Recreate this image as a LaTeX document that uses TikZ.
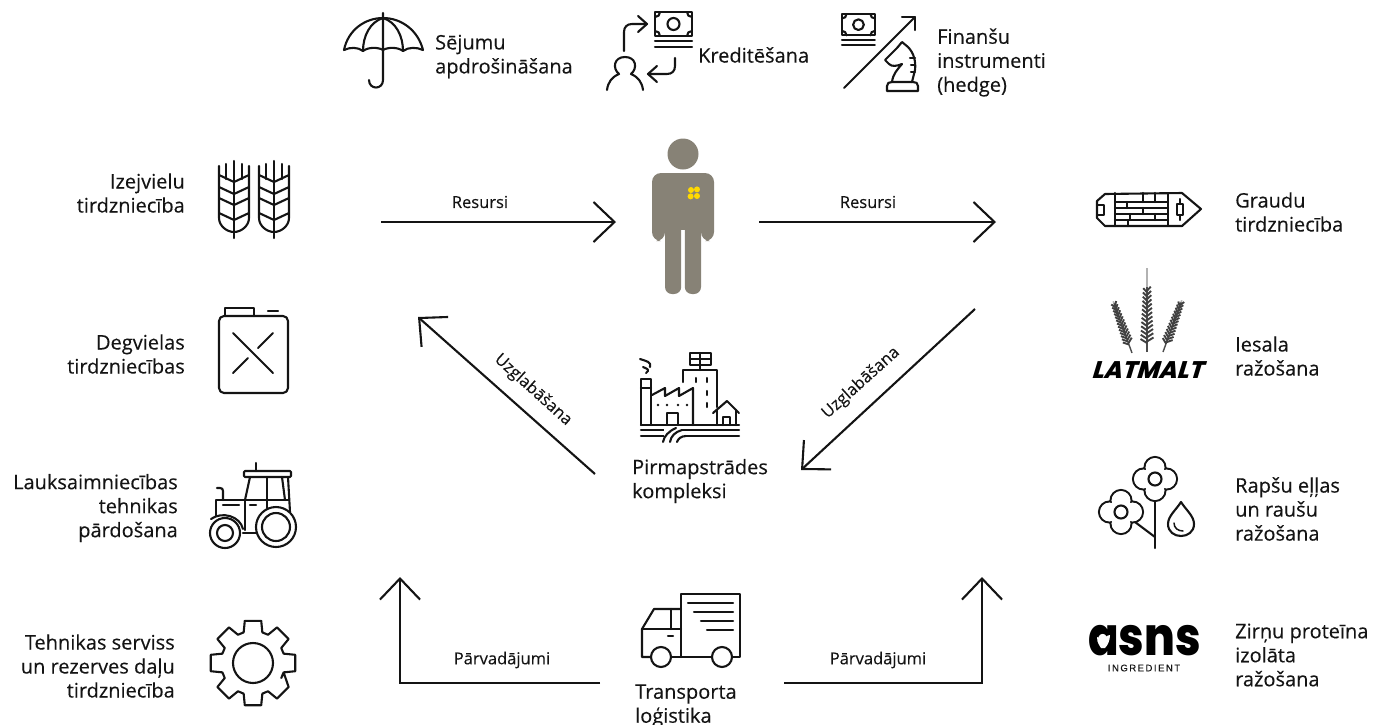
\documentclass[tikz,border=0pt]{standalone}
\usepackage{fontspec}
\setmainfont{Open Sans}[FakeBold=0.25]
\newfontfamily\logofont{Poppins}[UprightFont=* ExtraBold]
\newfontfamily\latfont{Poppins}[UprightFont=* ExtraBold,FakeSlant=0.3]
\newfontfamily\ingfont{Liberation Sans}[LetterSpace=16,FakeBold=0.3]
\usetikzlibrary{arrows.meta,calc}
\definecolor{ink}{HTML}{141414}
\definecolor{figure}{HTML}{878276}
\definecolor{petal}{HTML}{FFD900}
\newcommand{\moneyic}[3]{%
 \begin{scope}[shift={(#1,#2)},scale=#3]
 \draw[icon] (0,0) rectangle (37,24);
 \draw[icon] (18.5,12) circle[radius=6];
 \draw[icon] (0,5) .. controls (3,5) and (5,3) .. (5,0);
 \draw[icon] (32,0) .. controls (32,3) and (34,5) .. (37,5);
 \draw[icon] (0,19) .. controls (3,19) and (5,21) .. (5,24);
 \draw[icon] (32,24) .. controls (32,21) and (34,19) .. (37,19);
 \draw[icon] (0,29) -- (37,29);
 \draw[icon] (0,35) -- (37,35);
 \end{scope}}
\newcommand{\flowerbloom}[2]{%
 \begin{scope}[shift={(#1,#2)}]
 \foreach \dx/\dy in {0/-11.5,0/11.5,-11.5/0,11.5/0}{\draw[icon] (\dx,\dy) circle[radius=10.5];}
 \foreach \dx/\dy in {0/-11.5,0/11.5,-11.5/0,11.5/0}{\fill[white] (\dx,\dy) circle[radius=9.4];}
 \fill[white] (0,0) circle[radius=9];
 \draw[icon] (0,0) circle[radius=6.5];
 \end{scope}}
\newcommand{\ear}[6]{%
 \begin{scope}[shift={(#1,#2)},rotate=#3]
 \draw[line width=1.4pt,black!70] (0,0) -- (0,-#4);
 \draw[line width=1.6pt,black!30] (0,-#4) -- (0,-#5);
 \foreach \k in {0,...,12}{
  \pgfmathsetmacro{\yy}{-9-\k*(#4-10)/13}
  \pgfmathsetmacro{\ww}{#6*(1-0.035*\k)}
  \draw[line width=1.9pt,black!75] (0,\yy) -- (-\ww,\yy-4);
  \draw[line width=1.9pt,black!75] (0,\yy-1.5) -- (\ww,\yy-5.5);
 }
 \end{scope}}
\tikzset{
 icon/.style={draw=ink,line width=2.1pt,line join=round,line cap=round},
 flow/.style={draw=ink,line width=2.1pt,-{Straight Barb[length=21pt,width=40pt,line width=2.1pt]}},
 lbl/.style={text=ink,inner sep=0pt,font=\fontsize{20}{24}\selectfont},
 lblr/.style={lbl,align=right,anchor=east},
 lbll/.style={lbl,align=left,anchor=west},
 tag/.style={text=ink,inner sep=0pt,font=\fontsize{16.5}{18}\selectfont},
}
\begin{document}
\begin{tikzpicture}[x=1pt,y=-1pt]
\useasboundingbox (0,0) rectangle (1377,724);
% ---- connectors
\coordinate (a1) at (381,222); \coordinate (a2) at (616,222);
\coordinate (b1) at (759,222); \coordinate (b2) at (996,222);
\coordinate (c1) at (595,474); \coordinate (c2) at (418,317);
\coordinate (d1) at (975,309); \coordinate (d2) at (801,470);
\coordinate (e1) at (600,683); \coordinate (e2) at (400,577);
\coordinate (f1) at (784,683); \coordinate (f2) at (982,577);
\draw[flow] (a1) -- (a2);
\draw[flow] (b1) -- (b2);
\draw[flow] (c1) -- (c2);
\draw[flow] (d1) -- (d2);
\draw[flow] (e1) -| (e2);
\draw[flow] (f1) -| (f2);
\node[tag] (t1) at (480,202) {Resursi};
\node[tag] (t2) at (868,202) {Resursi};
\node[tag,rotate=-42] (t3) at (533,390) {Uzglabāšana};
\node[tag,rotate=42] (t4) at (861,383) {Uzglabāšana};
\node[tag] (t5) at (502,660) {Pārvadājumi};
\node[tag] (t6) at (878,660) {Pārvadājumi};
% ---- labels
\node[lblr] (l1) at (185,193) {Izejvielu\\tirdzniecība};
\node[lblr] (l2) at (185,354) {Degvielas\\tirdzniecības};
\node[lblr] (l3) at (178,508) {Lauksaimniecības\\tehnikas\\pārdošana};
\node[lblr] (l4) at (175,666) {Tehnikas serviss\\un rezerves daļu\\tirdzniecība};
\node[lbll] (r1) at (1235,212) {Graudu\\tirdzniecība};
\node[lbll] (r2) at (1235,356) {Iesala\\ražošana};
\node[lbll] (r3) at (1235,509) {Rapšu eļļas\\un raušu\\ražošana};
\node[lbll] (r4) at (1235,655) {Zirņu proteīna\\izolāta\\ražošana};
\node[lbll] (p1) at (435,56.5) {Sējumu\\apdrošināšana};
\node[lbll] (p2) at (698,55) {Kreditēšana};
\node[lbll] (p3) at (937,62.5) {Finanšu\\instrumenti\\(hedge)};
\node[lbll] (m1) at (632,481) {Pirmapstrādes\\kompleksi};
\node[lbll] (m2) at (635,706) {Transporta\\loģistika};
% ---- umbrella
\draw[icon] (344,50) .. controls (348,30) and (365,18) .. (383,18) .. controls (401,18) and (418,30) .. (423,50);
\draw[icon] (344,50) .. controls (350,47) and (358,47) .. (363,51) .. controls (368,47) and (378,47) .. (383,50) .. controls (388,47) and (398,47) .. (403,51) .. controls (408,47) and (417,47) .. (423,50);
\draw[icon] (383,18) .. controls (370,22) and (363,36) .. (363,51);
\draw[icon] (383,18) .. controls (396,22) and (403,36) .. (403,51);
\draw[icon] (383,13) -- (383,80) .. controls (383,90) and (369,90) .. (369,80);
% ---- credit
\moneyic{655}{12}{1}
\draw[icon] (624,51) -- (624,32) .. controls (624,27) and (627,24) .. (632,24) -- (647,24);
\draw[icon] (638,16) -- (647,24) -- (638,32);
\draw[icon] (675,58) -- (675,66) .. controls (675,71) and (672,74) .. (667,74) -- (648,74);
\draw[icon] (657,66) -- (648,74) -- (657,82);
\draw[icon] (607,90) .. controls (608,82) and (612,77) .. (619,74) .. controls (612,68) and (614,57) .. (625,57) .. controls (636,57) and (638,68) .. (631,74) .. controls (638,77) and (642,82) .. (643,90);
% ---- hedge
\moneyic{842}{14}{0.89}
\draw[icon] (844,88) -- (915,17);
\draw[icon] (902,17) -- (915,17) -- (915,30);
\draw[icon] (887,91) -- (887,86) .. controls (887,83) and (889,82) .. (892,82) -- (913,82) .. controls (916,82) and (918,83) .. (918,86) -- (918,91) -- cycle;
\draw[icon] (892,82) .. controls (893,74) and (897,70) .. (902,64) .. controls (897,66) and (892,67) .. (889,64) -- (885,60) -- (897,48) -- (902,42) -- (908,47) .. controls (914,53) and (916,62) .. (915,70) -- (912,82);
\draw[icon] (910,58) -- (915,58);
\draw[icon] (911,65) -- (915,65);
\draw[icon] (911,72) -- (915,72);
% ---- wheat
\foreach \o in {0,40}{
 \begin{scope}[shift={(\o,0)}]
 \draw[icon] (234,161) -- (234,238);
 \draw[icon] (219,166) -- (219,218) .. controls (219,226) and (227,232) .. (234,232) .. controls (241,232) and (249,226) .. (249,218) -- (249,166);
 \draw[icon] (226,164) -- (226,179);
 \draw[icon] (242,164) -- (242,179);
 \foreach \yy in {175,187,198,213}{\draw[icon] (219,\yy) -- (234,\yy+7) -- (249,\yy);}
 \end{scope}}
% ---- jerry can
\draw[icon,rounded corners=5pt] (219,316) rectangle (288,393);
\draw[icon] (225,316) -- (225,308) -- (254,308) -- (254,316);
\draw[icon] (268,311) -- (278,311);
\draw[icon] (233,333) -- (273,373);
\draw[icon] (273,333) -- (258,348);
\draw[icon] (248,358) -- (233,373);
% ---- tractor
\draw[icon,rounded corners=1pt] (244,471) rectangle (291,477);
\draw[icon] (256,463) -- (256,471);
\draw[icon] (250,477) -- (245,500);
\draw[icon] (267,477) -- (267,508);
\draw[icon] (282,477) -- (285,500);
\draw[icon] (288,477) -- (290,512);
\draw[icon] (216,516) -- (216,500) -- (289,500);
\draw[icon] (217,488) -- (220,488) .. controls (222,488) and (223,489) .. (223,491) -- (223,500);
\draw[icon] (223,505) -- (239,505);
\draw[icon] (250,505) -- (256,505);
\draw[icon] (245,500) -- (245,530);
\draw[icon] (243,533) -- (256,533);
\draw[icon] (225,533) circle[radius=15];
\draw[icon] (225,533) circle[radius=8];
\draw[icon] (211,519) .. controls (222,511) and (240,516) .. (243,529);
\draw[icon] (276,527) circle[radius=20];
\draw[icon] (276,527) circle[radius=14];
% ---- gear
\begin{scope}[shift={(253,663)}]
\draw[icon] (17:32) \foreach \a in {45,90,...,360}{
  -- (\a-11:43) -- (\a+11:43) -- (\a+17:32) -- (\a+28:32)
  } -- cycle;
\draw[icon] (0,0) circle[radius=20];
\end{scope}
% ---- person
\fill[figure] (683,154) circle[radius=15.5];
\fill[figure,rounded corners=9pt] (652,241) -- (652,173) -- (714,173) -- (714,241) -- (701,241) -- (701,200) -- (665,200) -- (665,241) -- cycle;
\fill[figure,rounded corners=7pt] (665,190) -- (665,294) -- (681.2,294) -- (681.2,190) -- cycle;
\fill[figure,rounded corners=7pt] (684.8,190) -- (684.8,294) -- (701,294) -- (701,190) -- cycle;
\fill[figure] (665,190) rectangle (701,230);
\foreach \dx/\dy in {-3/-3,3/-3.6,-3.4/3.4,3/3}{\fill[petal] (694+\dx,193+\dy) circle[radius=3];}
% ---- factory
\draw[icon] (641,425) -- (641,379) -- (651,379) -- (651,425);
\draw[icon] (641,388) -- (651,388);
\draw[icon] (640,359) .. controls (646,361) and (652,362) .. (650,367);
\draw[icon] (643,367) .. controls (648,369) and (650,370) .. (646,373);
\draw[icon] (652,395) -- (665,388) -- (665,396) -- (679,388) -- (679,396) -- (693,388) -- (693,425);
\draw[icon] (667,425) -- (667,413) -- (678,413) -- (678,425);
\foreach \xx in {658,667,678,687}{\fill[ink] (\xx,405) circle[radius=1.3];}
\draw[icon] (683,382) -- (683,370) -- (717,370) -- (717,407);
\foreach \yy in {378,391,403}{\draw[icon] (707,\yy) -- (707,\yy+4);}
\draw[icon] (696,378) -- (696,382);
\draw[icon] (690,353) rectangle (711,365);
\draw[icon] (700,353) -- (700,370);
\draw[icon] (690,359) -- (711,359);
\draw[icon] (713,413) -- (727,401) -- (739,413);
\draw[icon] (717,410) -- (717,425);
\draw[icon] (736,410) -- (736,425);
\draw[icon] (723,425) -- (723,417) -- (730,417) -- (730,425);
\draw[icon] (641,425) -- (739,425);
\draw[icon] (641,430) -- (739,430);
\draw[icon] (641,436) -- (664,436);
\draw[icon] (685,436) -- (739,436);
\fill[white] (664,428.8) rectangle (681,436);
\draw[icon] (663,442) .. controls (664,436) and (669,431) .. (676,428);
\draw[icon] (670,442) .. controls (671,436) and (675,432) .. (682,430);
\draw[icon] (677,442) .. controls (678,439) and (681,436) .. (686,436);
% ---- ship
\draw[icon] (1097,201) -- (1105,194) -- (1182,193) -- (1201,209) -- (1182,226) -- (1105,226) -- (1097,218) -- cycle;
\draw[icon] (1098,205) -- (1104,205) -- (1104,215) -- (1098,215);
\draw[icon] (1115,193) -- (1115,226);
\foreach \yy in {202,208,214,220}{\draw[icon] (1115,\yy) -- (1168,\yy);}
\draw[icon] (1168,194) -- (1168,225);
\foreach \xx/\ya/\yb in {1127/202/208,1155/193/202,1130/214/220,1143/208/214,1155/214/220,1128/220/226,1143/193/202}{\draw[icon] (\xx,\ya) -- (\xx,\yb);}
\draw[icon] (1177,204) rectangle (1183,215);
\draw[icon] (1180,199) -- (1180,204);
\draw[icon] (1180,215) -- (1180,220);
% ---- latmalt
\ear{1132}{353}{20}{53}{55}{5}
\ear{1147}{352}{0}{65}{84}{6.5}
\ear{1163}{352}{-20}{53}{55}{5}
\node[inner sep=0pt,text=black,font=\latfont\fontsize{24}{24}\selectfont] (lm) at (1147,370) {LATMALT};
% ---- flowers
\draw[icon] (1155,500) -- (1155,548);
\draw[icon] (1135,522) -- (1155,537);
\flowerbloom{1155}{479}
\flowerbloom{1121}{512}
\draw[icon] (1181,502) .. controls (1176,510) and (1168,516) .. (1168,524) .. controls (1168,540) and (1194,540) .. (1194,524) .. controls (1194,516) and (1186,510) .. (1181,502) -- cycle;
\draw[icon,line width=1.5pt] (1174,523) .. controls (1174,528) and (1178,531) .. (1183,531);
% ---- asns
\node[inner sep=0pt,text=black,yscale=1.18,font=\logofont\fontsize{45}{45}\selectfont] (as) at (1144.5,641) {asns};
\fill[white] (1101,648) .. controls (1097,642) and (1097,640) .. (1097,637) .. controls (1100,637) and (1102,639) .. (1103,642) .. controls (1104,639) and (1106,635) .. (1110,635) .. controls (1110,640) and (1108,645) .. (1105,648) -- cycle;
\node[inner sep=0pt,text=ink,font=\ingfont\fontsize{9.5}{9.5}\selectfont] (ing) at (1144,668) {INGREDIENT};
% ---- truck
\draw[icon] (681,657) -- (681,594) -- (740,594) -- (740,657) -- (732,657);
\draw[icon] (712,657) -- (671,657);
\draw[icon] (651,657) -- (642,657) -- (642,629) -- (654,609) -- (681,609);
\draw[icon] (642,629) -- (681,629);
\draw[icon] (671,609) -- (671,629);
\draw[icon] (668,636) -- (673,636);
\draw[icon] (661,657) circle[radius=10];
\draw[icon] (722,657) circle[radius=10];
\draw[icon] (688,603) -- (733,603);
\draw[icon] (694,612) -- (733,612);
\draw[icon] (701,621) -- (733,621);
\draw[icon] (707,630) -- (733,630);
\end{tikzpicture}
\end{document}
